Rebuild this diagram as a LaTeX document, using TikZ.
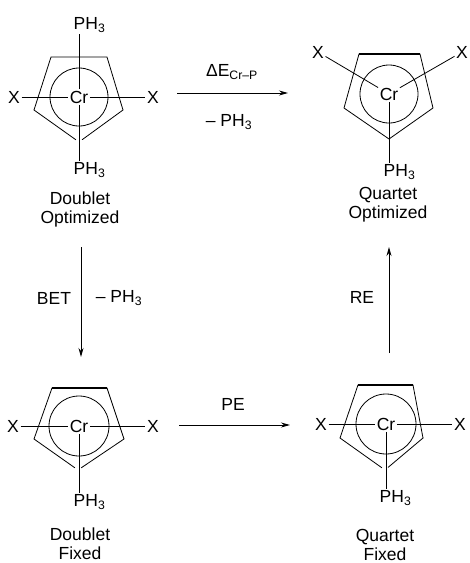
\documentclass[tikz,border=0pt]{standalone}
\usepackage{fontspec}
\setmainfont{Liberation Sans}
\usetikzlibrary{arrows.meta}
\begin{document}
\begin{tikzpicture}[x=1pt,y=-1pt,
	font=\fontsize{17.5}{19}\selectfont,
	bond/.style={line width=0.8pt},
	ring/.style={line width=0.8pt, line cap=round},
	backedge/.style={line width=1.4pt},
	rxn/.style={line width=0.9pt, -{Stealth[length=9pt,width=5pt]}},
	atom/.style={inner sep=1.5pt},
	lbl/.style={align=center}]
	\useasboundingbox (0,0) rectangle (470,563);
	% doublet, optimized
	\begin{scope}
		\coordinate (cenA) at (79,97);
		\node[atom] (crA) at (cenA) {Cr};
		\node[atom] (xA1) at (14,97) {X};
		\node[atom] (xA2) at (153,97) {X};
		\node[atom, anchor=west] (pA1) at (72,25) {PH\textsubscript{3}};
		\node[atom, anchor=west] (pA2) at (72,170) {PH\textsubscript{3}};
		\draw[ring] (cenA) circle[radius=29];
		\draw[ring] (34,110) -- (51,57) -- (107,57) -- (123,110);
		\draw[ring, shorten >=4pt] (34,110) -- (79,142);
		\draw[ring, shorten >=4pt] (123,110) -- (79,142);
		\draw[bond] (xA1) -- (crA) -- (xA2);
		\draw[bond] (crA) -- (crA |- pA1.south);
		\draw[bond] (crA) -- (crA |- pA2.north);
		\node[lbl] (nA) at (80,209) {Doublet\\Optimized};
	\end{scope}
	% quartet, optimized
	\begin{scope}
		\coordinate (cenB) at (389,94);
		\node[atom] (crB) at (cenB) {Cr};
		\node[atom] (xB1) at (318,52) {X};
		\node[atom] (xB2) at (462,52) {X};
		\node[atom, anchor=west] (pB) at (382,172) {PH\textsubscript{3}};
		\draw[ring] (cenB) circle[radius=29];
		\draw[ring] (344,108) -- (359,54) -- (420,54) -- (433,108) -- (389,139) -- cycle;
		\draw[backedge] (359,54) -- (420,54);
		\draw[bond] (xB1) -- (crB) -- (xB2);
		\draw[bond] (crB) -- (crB |- pB.north);
		\node[lbl] (nB) at (388,205) {Quartet\\Optimized};
	\end{scope}
	% doublet, fixed
	\begin{scope}
		\coordinate (cenC) at (79,426);
		\node[atom] (crC) at (cenC) {Cr};
		\node[atom] (xC1) at (13,426) {X};
		\node[atom] (xC2) at (153,426) {X};
		\node[atom, anchor=west] (pC) at (72,502) {PH\textsubscript{3}};
		\draw[ring] (cenC) circle[radius=30];
		\draw[ring] (34,439) -- (52,388) -- (107,388) -- (124,439);
		\draw[backedge] (52,388) -- (107,388);
		\draw[ring, shorten >=4pt] (34,439) -- (78,470);
		\draw[ring, shorten >=4pt] (124,439) -- (78,470);
		\draw[bond] (xC1) -- (crC) -- (xC2);
		\draw[bond] (crC) -- (crC |- pC.north);
		\node[lbl] (nC) at (80,544) {Doublet\\Fixed};
	\end{scope}
	% quartet, fixed
	\begin{scope}
		\coordinate (cenD) at (386,424);
		\node[atom] (crD) at (cenD) {Cr};
		\node[atom] (xD1) at (321,424) {X};
		\node[atom] (xD2) at (460,424) {X};
		\node[atom, anchor=west] (pD) at (378,498) {PH\textsubscript{3}};
		\draw[ring] (cenD) circle[radius=30];
		\draw[ring] (340,438) -- (358,385) -- (413,385) -- (423,438);
		\draw[backedge] (358,385) -- (413,385);
		\draw[ring, shorten >=4pt] (340,438) -- (385,470);
		\draw[ring, shorten >=4pt] (423,438) -- (385,470);
		\draw[bond] (xD1) -- (crD) -- (xD2);
		\draw[bond] (crD) -- (crD |- pD.north);
		\node[lbl] (nD) at (385,545) {Quartet\\Fixed};
	\end{scope}
	% reaction arrows
	\coordinate (a1) at (177,93);
	\coordinate (a2) at (288,93);
	\draw[rxn] (a1) -- (a2);
	\node (de) at (232,72) {ΔE\textsubscript{Cr--P}};
	\node (mp1) at (229,122) {-- PH\textsubscript{3}};
	\coordinate (b1) at (81,247);
	\coordinate (b2) at (81,357);
	\draw[rxn] (b1) -- (b2);
	\node (bet) at (54,298) {BET};
	\node (mp2) at (119,298) {-- PH\textsubscript{3}};
	\coordinate (c1) at (179,425);
	\coordinate (c2) at (290,425);
	\draw[rxn] (c1) -- (c2);
	\node (pe) at (233,404) {PE};
	\coordinate (d1) at (389,353);
	\coordinate (d2) at (389,247);
	\draw[rxn] (d1) -- (d2);
	\node (re) at (362,297) {RE};
\end{tikzpicture}
\end{document}
